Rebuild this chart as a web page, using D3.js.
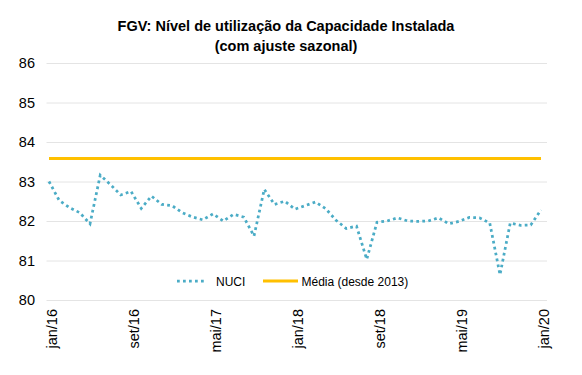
<!DOCTYPE html>
<html>
<head>
<meta charset="utf-8">
<script src="https://cdn.jsdelivr.net/npm/d3@7"></script>
<style>
  body { margin: 0; background: #fff; }
  svg { font-family: "Liberation Sans", Arial, sans-serif; }
</style>
</head>
<body>
<svg id="chart" width="582" height="375"></svg>
<script>
// month names (pt-BR) and the series, jan/16 .. jan/20
const monthNames = ['jan', 'fev', 'mar', 'abr', 'mai', 'jun', 'jul', 'ago', 'set', 'out', 'nov', 'dez'];
const years = [16, 17, 18, 19, 20];
const months = [];
years.forEach(y => monthNames.forEach(m => months.push(m + '/' + y)));
months.length = 49;

const nuci = [
  83.00, 82.52, 82.34, 82.21, 81.93, 83.16, 82.92, 82.66, 82.75, 82.32, 82.63, 82.42,
  82.39, 82.21, 82.10, 82.03, 82.18, 82.00, 82.17, 82.10, 81.62, 82.80, 82.42, 82.50,
  82.30, 82.39, 82.48, 82.31, 82.02, 81.81, 81.87, 81.03, 81.97, 82.00, 82.08, 82.00,
  81.99, 82.00, 82.08, 81.93, 81.99, 82.09, 82.08, 81.95, 80.64, 81.95, 81.89, 81.90,
  82.28
];
const media = 83.58;

const yTicks = [80, 81, 82, 83, 84, 85, 86];
const xTickLabels = ['jan/16', 'set/16', 'mai/17', 'jan/18', 'set/18', 'mai/19', 'jan/20'];

const svg = d3.select('#chart');

const plot = { left: 46.5, right: 547, top: 63, bottom: 300 };

const x = d3.scalePoint().domain(months).range([49, 541]);
const y = d3.scaleLinear().domain([80, 86]).range([plot.bottom, plot.top]);

// title
const title = svg.append('text')
  .attr('text-anchor', 'middle')
  .attr('font-weight', 'bold')
  .attr('font-size', '14.5px')
  .attr('fill', '#000');
title.append('tspan').attr('x', 286).attr('y', 31).text('FGV: Nível de utilização da Capacidade Instalada');
title.append('tspan').attr('x', 286).attr('y', 51).text('(com ajuste sazonal)');

// y axis + gridlines
const yAxis = d3.axisLeft(y)
  .tickValues(yTicks)
  .tickSize(-(plot.right - plot.left))
  .tickPadding(11.5)
  .tickFormat(d3.format('d'));

const gy = svg.append('g')
  .attr('transform', `translate(${plot.left},0)`)
  .call(yAxis);
gy.select('.domain').remove();
gy.selectAll('line').attr('stroke', '#e4e4e4').attr('stroke-width', 1);
gy.selectAll('text')
  .attr('font-size', '14.5px')
  .attr('fill', '#000')
  .attr('font-family', '"Liberation Sans", Arial, sans-serif');

// x axis, rotated labels
const xAxis = d3.axisBottom(x).tickValues(xTickLabels).tickSize(0);
const gx = svg.append('g')
  .attr('transform', `translate(0,${plot.bottom})`)
  .call(xAxis);
gx.select('.domain').remove();
gx.selectAll('text')
  .attr('font-size', '14.5px')
  .attr('fill', '#000')
  .attr('font-family', '"Liberation Sans", Arial, sans-serif')
  .attr('text-anchor', 'end')
  .attr('transform', 'rotate(-90)')
  .attr('x', -9)
  .attr('y', 2.5)
  .attr('dy', '0.35em');

// lines
const line = d3.line()
  .x((d, i) => x(months[i]))
  .y(d => y(d));

svg.append('path')
  .datum(months.map(() => media))
  .attr('fill', 'none')
  .attr('stroke', '#ffc000')
  .attr('stroke-width', 3)
  .attr('d', line);

svg.append('path')
  .datum(nuci)
  .attr('fill', 'none')
  .attr('stroke', '#4bacc6')
  .attr('stroke-width', 2.75)
  .attr('stroke-dasharray', '2.75 3.25')
  .attr('d', line);

// legend
const legend = svg.append('g').attr('font-size', '12px').attr('fill', '#000');
legend.append('line')
  .attr('x1', 177).attr('x2', 206).attr('y1', 281).attr('y2', 281)
  .attr('stroke', '#4bacc6').attr('stroke-width', 2.75).attr('stroke-dasharray', '2.75 3.25');
legend.append('text').attr('x', 216).attr('y', 285.5).text('NUCI');
legend.append('line')
  .attr('x1', 263).attr('x2', 298).attr('y1', 281).attr('y2', 281)
  .attr('stroke', '#ffc000').attr('stroke-width', 3);
legend.append('text').attr('x', 301.5).attr('y', 285.5).text('Média (desde 2013)');
</script>
</body>
</html>
